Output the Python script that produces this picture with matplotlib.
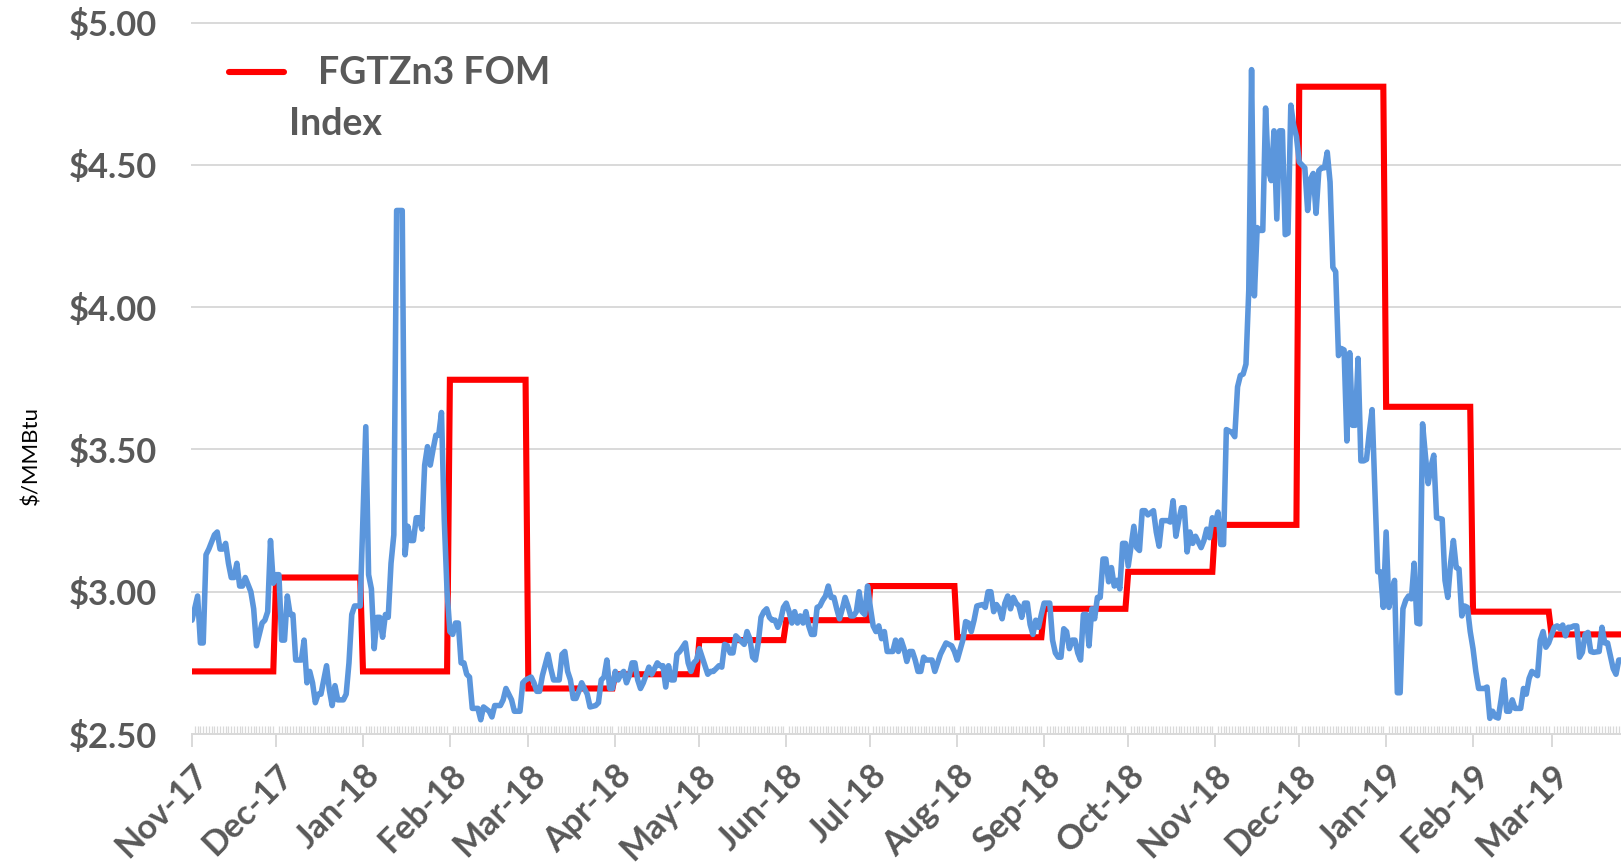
import matplotlib
matplotlib.use("Agg")
import matplotlib.pyplot as plt
import matplotlib.dates as mdates
from matplotlib.lines import Line2D
import pandas as pd

plt.rcParams['font.family'] = ['Lato', 'DejaVu Sans']

# ---------------- data ----------------
fom_months = ['2017-11', '2017-12', '2018-01', '2018-02', '2018-03', '2018-04',
              '2018-05', '2018-06', '2018-07', '2018-08', '2018-09', '2018-10',
              '2018-11', '2018-12', '2019-01', '2019-02', '2019-03']
fom_index = [2.72, 3.05, 2.72, 3.745, 2.66, 2.71, 2.83, 2.90, 3.02, 2.84,
             2.94, 3.07, 3.235, 4.775, 3.65, 2.93, 2.85]
fom_label = 'FGTZn3 FOM'
fom_label2 = 'Index'

spot_dates = [
    # Nov 2017
    '2017-11-01', '2017-11-03', '2017-11-04', '2017-11-05', '2017-11-06', '2017-11-07', '2017-11-09',
    '2017-11-10', '2017-11-11', '2017-11-12', '2017-11-13', '2017-11-14', '2017-11-15', '2017-11-16',
    '2017-11-17', '2017-11-18', '2017-11-19', '2017-11-20', '2017-11-22', '2017-11-23', '2017-11-24',
    '2017-11-26', '2017-11-27', '2017-11-28', '2017-11-29', '2017-11-30',
    # Dec 2017
    '2017-12-01', '2017-12-02', '2017-12-03', '2017-12-04', '2017-12-05', '2017-12-06', '2017-12-07',
    '2017-12-08', '2017-12-09', '2017-12-10', '2017-12-11', '2017-12-12', '2017-12-13', '2017-12-14',
    '2017-12-15', '2017-12-16', '2017-12-17', '2017-12-19', '2017-12-20', '2017-12-21', '2017-12-22',
    '2017-12-23', '2017-12-25', '2017-12-26', '2017-12-27', '2017-12-28', '2017-12-29', '2017-12-31',
    # Jan 2018
    '2018-01-02', '2018-01-03', '2018-01-04', '2018-01-05', '2018-01-06', '2018-01-07', '2018-01-08',
    '2018-01-09', '2018-01-10', '2018-01-11', '2018-01-12', '2018-01-13', '2018-01-14', '2018-01-15',
    '2018-01-16', '2018-01-17', '2018-01-18', '2018-01-19', '2018-01-20', '2018-01-21', '2018-01-22',
    '2018-01-23', '2018-01-24', '2018-01-25', '2018-01-26', '2018-01-27', '2018-01-28', '2018-01-29',
    '2018-01-30', '2018-01-31',
    # Feb 2018
    '2018-02-01', '2018-02-02', '2018-02-03', '2018-02-04', '2018-02-05', '2018-02-06', '2018-02-07',
    '2018-02-08', '2018-02-09', '2018-02-10', '2018-02-11', '2018-02-12', '2018-02-13', '2018-02-15',
    '2018-02-16', '2018-02-17', '2018-02-19', '2018-02-20', '2018-02-21', '2018-02-22', '2018-02-23',
    '2018-02-24', '2018-02-26', '2018-02-27', '2018-02-28',
    # Mar 2018
    '2018-03-02', '2018-03-03', '2018-03-04', '2018-03-05', '2018-03-06', '2018-03-08', '2018-03-09',
    '2018-03-10', '2018-03-12', '2018-03-13', '2018-03-14', '2018-03-15', '2018-03-16', '2018-03-17',
    '2018-03-18', '2018-03-19', '2018-03-20', '2018-03-22', '2018-03-23', '2018-03-25', '2018-03-26',
    '2018-03-27', '2018-03-28', '2018-03-29', '2018-03-30', '2018-03-31',
    # Apr 2018
    '2018-04-01', '2018-04-02', '2018-04-03', '2018-04-04', '2018-04-05', '2018-04-06', '2018-04-07',
    '2018-04-08', '2018-04-09', '2018-04-10', '2018-04-11', '2018-04-13', '2018-04-14', '2018-04-16',
    '2018-04-17', '2018-04-18', '2018-04-19', '2018-04-20', '2018-04-21', '2018-04-22', '2018-04-23',
    '2018-04-24', '2018-04-26', '2018-04-27', '2018-04-28', '2018-04-29', '2018-04-30',
    # May 2018
    '2018-05-01', '2018-05-03', '2018-05-04', '2018-05-05', '2018-05-06', '2018-05-08', '2018-05-09',
    '2018-05-10', '2018-05-11', '2018-05-12', '2018-05-13', '2018-05-14', '2018-05-15', '2018-05-17',
    '2018-05-18', '2018-05-19', '2018-05-20', '2018-05-21', '2018-05-22', '2018-05-23', '2018-05-24',
    '2018-05-25', '2018-05-26', '2018-05-27', '2018-05-28', '2018-05-29', '2018-05-30', '2018-05-31',
    # Jun 2018
    '2018-06-01', '2018-06-02', '2018-06-03', '2018-06-04', '2018-06-05', '2018-06-06', '2018-06-07',
    '2018-06-08', '2018-06-09', '2018-06-10', '2018-06-11', '2018-06-12', '2018-06-13', '2018-06-14',
    '2018-06-15', '2018-06-16', '2018-06-17', '2018-06-18', '2018-06-19', '2018-06-20', '2018-06-21',
    '2018-06-22', '2018-06-23', '2018-06-24', '2018-06-25', '2018-06-26', '2018-06-27', '2018-06-28',
    '2018-06-29', '2018-06-30',
    # Jul 2018
    '2018-07-01', '2018-07-02', '2018-07-03', '2018-07-04', '2018-07-05', '2018-07-06', '2018-07-07',
    '2018-07-09', '2018-07-10', '2018-07-11', '2018-07-12', '2018-07-13', '2018-07-14', '2018-07-15',
    '2018-07-16', '2018-07-17', '2018-07-18', '2018-07-19', '2018-07-20', '2018-07-21', '2018-07-22',
    '2018-07-23', '2018-07-24', '2018-07-25', '2018-07-26', '2018-07-28', '2018-07-29', '2018-07-30',
    '2018-07-31',
    # Aug 2018
    '2018-08-01', '2018-08-03', '2018-08-04', '2018-08-05', '2018-08-06', '2018-08-07', '2018-08-08',
    '2018-08-10', '2018-08-11', '2018-08-12', '2018-08-13', '2018-08-14', '2018-08-15', '2018-08-16',
    '2018-08-17', '2018-08-18', '2018-08-19', '2018-08-20', '2018-08-21', '2018-08-22', '2018-08-23',
    '2018-08-24', '2018-08-25', '2018-08-26', '2018-08-27', '2018-08-28', '2018-08-29', '2018-08-30',
    '2018-08-31',
    # Sep 2018
    '2018-09-01', '2018-09-03', '2018-09-04', '2018-09-05', '2018-09-06', '2018-09-07', '2018-09-08',
    '2018-09-09', '2018-09-10', '2018-09-11', '2018-09-12', '2018-09-13', '2018-09-14', '2018-09-15',
    '2018-09-16', '2018-09-17', '2018-09-18', '2018-09-19', '2018-09-20', '2018-09-21', '2018-09-22',
    '2018-09-23', '2018-09-24', '2018-09-25', '2018-09-26', '2018-09-27', '2018-09-28', '2018-09-29',
    '2018-09-30',
    # Oct 2018
    '2018-10-01', '2018-10-02', '2018-10-03', '2018-10-04', '2018-10-05', '2018-10-06', '2018-10-07',
    '2018-10-08', '2018-10-10', '2018-10-11', '2018-10-12', '2018-10-13', '2018-10-15', '2018-10-16',
    '2018-10-17', '2018-10-18', '2018-10-19', '2018-10-20', '2018-10-21', '2018-10-22', '2018-10-23',
    '2018-10-24', '2018-10-25', '2018-10-26', '2018-10-27', '2018-10-28', '2018-10-29', '2018-10-30',
    '2018-10-31',
    # Nov 2018
    '2018-11-01', '2018-11-02', '2018-11-03', '2018-11-04', '2018-11-05', '2018-11-07', '2018-11-08',
    '2018-11-09', '2018-11-10', '2018-11-11', '2018-11-12', '2018-11-13', '2018-11-14', '2018-11-15',
    '2018-11-16', '2018-11-17', '2018-11-18', '2018-11-19', '2018-11-20', '2018-11-21', '2018-11-22',
    '2018-11-23', '2018-11-24', '2018-11-25', '2018-11-26', '2018-11-27', '2018-11-28', '2018-11-29',
    '2018-11-30',
    # Dec 2018
    '2018-12-01', '2018-12-02', '2018-12-03', '2018-12-04', '2018-12-05', '2018-12-06', '2018-12-07',
    '2018-12-08', '2018-12-09', '2018-12-10', '2018-12-11', '2018-12-12', '2018-12-13', '2018-12-14',
    '2018-12-15', '2018-12-16', '2018-12-17', '2018-12-18', '2018-12-19', '2018-12-20', '2018-12-21',
    '2018-12-22', '2018-12-23', '2018-12-24', '2018-12-25', '2018-12-26', '2018-12-27', '2018-12-28',
    '2018-12-29', '2018-12-30', '2018-12-31',
    # Jan 2019
    '2019-01-01', '2019-01-02', '2019-01-03', '2019-01-04', '2019-01-05', '2019-01-06', '2019-01-07',
    '2019-01-08', '2019-01-09', '2019-01-10', '2019-01-11', '2019-01-12', '2019-01-13', '2019-01-14',
    '2019-01-15', '2019-01-16', '2019-01-17', '2019-01-18', '2019-01-19', '2019-01-21', '2019-01-22',
    '2019-01-23', '2019-01-24', '2019-01-25', '2019-01-26', '2019-01-27', '2019-01-28', '2019-01-29',
    '2019-01-30', '2019-01-31',
    # Feb 2019
    '2019-02-01', '2019-02-02', '2019-02-03', '2019-02-04', '2019-02-05', '2019-02-06', '2019-02-07',
    '2019-02-08', '2019-02-09', '2019-02-10', '2019-02-11', '2019-02-12', '2019-02-13', '2019-02-14',
    '2019-02-15', '2019-02-16', '2019-02-17', '2019-02-18', '2019-02-19', '2019-02-20', '2019-02-21',
    '2019-02-22', '2019-02-24', '2019-02-25', '2019-02-26', '2019-02-27', '2019-02-28',
    # Mar 2019
    '2019-03-02', '2019-03-03', '2019-03-04', '2019-03-05', '2019-03-06', '2019-03-07', '2019-03-08',
    '2019-03-09', '2019-03-10', '2019-03-11', '2019-03-12', '2019-03-13', '2019-03-14', '2019-03-15',
    '2019-03-16', '2019-03-18', '2019-03-19', '2019-03-20', '2019-03-21', '2019-03-23', '2019-03-24',
    '2019-03-25', '2019-03-26',
]

spot_prices = [
    # Nov 2017
    2.90, 2.985, 2.82, 2.82, 3.13, 3.15, 3.20,
    3.21, 3.15, 3.15, 3.17, 3.10, 3.05, 3.05,
    3.10, 3.02, 3.02, 3.05, 3.00, 2.94, 2.81,
    2.89, 2.90, 2.93, 3.18, 3.03,
    # Dec 2017
    3.06, 3.06, 2.83, 2.83, 2.985, 2.92, 2.92,
    2.76, 2.76, 2.76, 2.83, 2.68, 2.72, 2.68,
    2.61, 2.64, 2.64, 2.74, 2.655, 2.60, 2.67,
    2.62, 2.62, 2.64, 2.75, 2.92, 2.95, 2.95,
    # Jan 2018
    3.58, 3.06, 3.01, 2.80, 2.91, 2.91, 2.84,
    2.92, 2.91, 3.10, 3.20, 4.34, 4.34, 4.34,
    3.13, 3.23, 3.18, 3.18, 3.26, 3.26, 3.22,
    3.445, 3.51, 3.445, 3.50, 3.55, 3.55, 3.63,
    3.25, 3.00,
    # Feb 2018
    2.86, 2.85, 2.89, 2.89, 2.75, 2.75, 2.71,
    2.70, 2.59, 2.59, 2.59, 2.55, 2.595, 2.58,
    2.56, 2.60, 2.60, 2.62, 2.66, 2.64, 2.62,
    2.58, 2.58, 2.68, 2.69,
    # Mar 2018
    2.70, 2.68, 2.65, 2.65, 2.705, 2.78, 2.73,
    2.69, 2.69, 2.78, 2.79, 2.72, 2.69, 2.625,
    2.625, 2.65, 2.68, 2.64, 2.595, 2.60, 2.61,
    2.69, 2.70, 2.76, 2.66, 2.66,
    # Apr 2018
    2.72, 2.69, 2.71, 2.72, 2.68, 2.705, 2.75,
    2.75, 2.69, 2.66, 2.68, 2.735, 2.71, 2.75,
    2.74, 2.74, 2.665, 2.74, 2.69, 2.69, 2.78,
    2.79, 2.82, 2.75, 2.72, 2.75, 2.76,
    # May 2018
    2.80, 2.74, 2.71, 2.72, 2.72, 2.74, 2.735,
    2.815, 2.81, 2.785, 2.785, 2.845, 2.835, 2.815,
    2.86, 2.835, 2.77, 2.76, 2.82, 2.91, 2.93,
    2.94, 2.91, 2.90, 2.90, 2.875, 2.90, 2.945,
    # Jun 2018
    2.96, 2.93, 2.89, 2.93, 2.89, 2.915, 2.89,
    2.93, 2.88, 2.85, 2.85, 2.945, 2.95, 2.97,
    2.985, 3.02, 2.98, 2.98, 2.94, 2.905, 2.94,
    2.98, 2.95, 2.915, 2.915, 2.93, 3.00, 2.93,
    2.92, 3.02,
    # Jul 2018
    2.945, 2.88, 2.86, 2.88, 2.835, 2.86, 2.79,
    2.79, 2.83, 2.79, 2.83, 2.80, 2.755, 2.79,
    2.79, 2.76, 2.72, 2.72, 2.77, 2.76, 2.76,
    2.76, 2.72, 2.75, 2.78, 2.82, 2.815, 2.81,
    2.79,
    # Aug 2018
    2.76, 2.83, 2.895, 2.89, 2.86, 2.90, 2.95,
    2.955, 2.945, 3.00, 3.00, 2.93, 2.955, 2.94,
    2.905, 2.96, 2.985, 2.94, 2.98, 2.96, 2.95,
    2.91, 2.96, 2.96, 2.885, 2.85, 2.90, 2.875,
    2.92,
    # Sep 2018
    2.96, 2.96, 2.83, 2.785, 2.77, 2.77, 2.87,
    2.86, 2.80, 2.83, 2.83, 2.785, 2.76, 2.92,
    2.92, 2.81, 2.94, 2.905, 2.98, 2.98, 3.115,
    3.115, 3.035, 3.085, 3.02, 3.04, 3.01, 3.17,
    3.17,
    # Oct 2018
    3.09, 3.16, 3.23, 3.155, 3.145, 3.285, 3.285,
    3.27, 3.285, 3.21, 3.16, 3.25, 3.25, 3.245,
    3.32, 3.195, 3.25, 3.295, 3.295, 3.14, 3.21,
    3.17, 3.195, 3.175, 3.155, 3.18, 3.22, 3.19,
    3.26,
    # Nov 2018
    3.237, 3.28, 3.166, 3.166, 3.57, 3.56, 3.545,
    3.72, 3.76, 3.765, 3.80, 4.06, 4.835, 4.04,
    4.28, 4.27, 4.27, 4.70, 4.48, 4.445, 4.62,
    4.31, 4.62, 4.62, 4.255, 4.26, 4.71, 4.64,
    4.60,
    # Dec 2018
    4.51, 4.50, 4.49, 4.34, 4.45, 4.47, 4.33,
    4.48, 4.49, 4.49, 4.545, 4.44, 4.14, 4.125,
    3.83, 3.855, 3.85, 3.53, 3.84, 3.585, 3.585,
    3.82, 3.46, 3.46, 3.465, 3.56, 3.64, 3.36,
    3.07, 3.07, 2.945,
    # Jan 2019
    3.21, 2.945, 3.00, 3.04, 2.645, 2.645, 2.94,
    2.97, 2.985, 2.975, 3.10, 2.89, 2.887, 3.59,
    3.48, 3.38, 3.44, 3.48, 3.26, 3.255, 3.04,
    2.98, 3.10, 3.18, 3.085, 3.08, 2.915, 2.95,
    2.945, 2.86,
    # Feb 2019
    2.80, 2.72, 2.66, 2.66, 2.66, 2.665, 2.555,
    2.58, 2.56, 2.556, 2.62, 2.69, 2.58, 2.58,
    2.62, 2.59, 2.59, 2.59, 2.66, 2.64, 2.695,
    2.72, 2.705, 2.83, 2.86, 2.805, 2.82,
    # Mar 2019
    2.875, 2.88, 2.87, 2.883, 2.845, 2.875, 2.875,
    2.88, 2.88, 2.77, 2.787, 2.85, 2.857, 2.79,
    2.787, 2.79, 2.875, 2.82, 2.82, 2.73, 2.71,
    2.76, 2.76,
]

y_ticks = [2.5, 3.0, 3.5, 4.0, 4.5, 5.0]
y_label = '$/MMBtu'

# ---------------- build series ----------------
spot = pd.Series(spot_prices, index=pd.to_datetime(spot_dates))
days = pd.date_range('2017-11-01', '2019-03-31', freq='D')
fom_map = dict(zip(pd.PeriodIndex(fom_months, freq='M'), fom_index))
fom_daily = pd.Series([fom_map[d.to_period('M')] for d in days], index=days)

# ---------------- figure ----------------
GRAY = '#595959'
GRID = '#D9D9D9'
fig = plt.figure(figsize=(16.21, 8.63), dpi=100)
ax = fig.add_axes([192 / 1621, 129 / 863, 1 - 192 / 1621, (734 - 22.7) / 863])

ax.plot(fom_daily.index, fom_daily.values, color='#FF0000', lw=4.4,
        solid_joinstyle='miter', zorder=2)
ax.plot(spot.index, spot.values, color='#5B96DC', lw=4.0,
        solid_joinstyle='round', solid_capstyle='round', zorder=3)

ax.set_ylim(2.5, 5.0)
ax.set_xlim(pd.Timestamp('2017-11-01'), pd.Timestamp('2019-03-25 19:00'))

ax.set_yticks(y_ticks)
ax.set_yticklabels([f'${v:.2f}' for v in y_ticks])
ax.yaxis.grid(True, color=GRID, lw=1.4)
for gl in ax.get_ygridlines():
    gl.set_clip_on(False)
ax.set_axisbelow(True)

for s in ['top', 'right', 'left']:
    ax.spines[s].set_visible(False)
ax.spines['bottom'].set_color(GRID)
ax.spines['bottom'].set_linewidth(1.2)

ax.tick_params(axis='y', length=0, pad=25, labelsize=24.8, labelcolor=GRAY)
for lab in ax.get_yticklabels():
    lab.set_fontweight('bold')

ax.xaxis.set_major_locator(mdates.MonthLocator())
ax.xaxis.set_major_formatter(mdates.DateFormatter('%b-%y'))
ax.xaxis.set_minor_locator(mdates.DayLocator())
ax.tick_params(axis='x', which='major', direction='out', length=9, width=1.4,
               color=GRID, labelsize=24.5, labelcolor=GRAY, pad=9)
ax.tick_params(axis='x', which='minor', direction='in', length=6, width=0.9,
               color=GRID)
for lab in ax.get_xticklabels():
    lab.set_rotation(45)
    lab.set_ha('right')
    lab.set_va('top')
    lab.set_rotation_mode('anchor')
    lab.set_fontweight('bold')

fig.text(31 / 1621, 1 - 455 / 863, y_label, rotation=90, ha='center', va='center',
         fontsize=16, color='black')

# legend (only FOM index shown, wrapped text like the original)
fig.add_artist(Line2D([229 / 1621, 284 / 1621], [1 - 72.5 / 863, 1 - 72.5 / 863],
                      color='#FF0000', lw=4.4, solid_capstyle='round'))
fig.text(318 / 1621, 1 - 72.5 / 863, fom_label, ha='left', va='center',
         fontsize=27, fontweight='bold', color=GRAY)
fig.text(289 / 1621, 1 - 124 / 863, fom_label2, ha='left', va='center',
         fontsize=27, fontweight='bold', color=GRAY)

fig.savefig('out.png', dpi=100)
